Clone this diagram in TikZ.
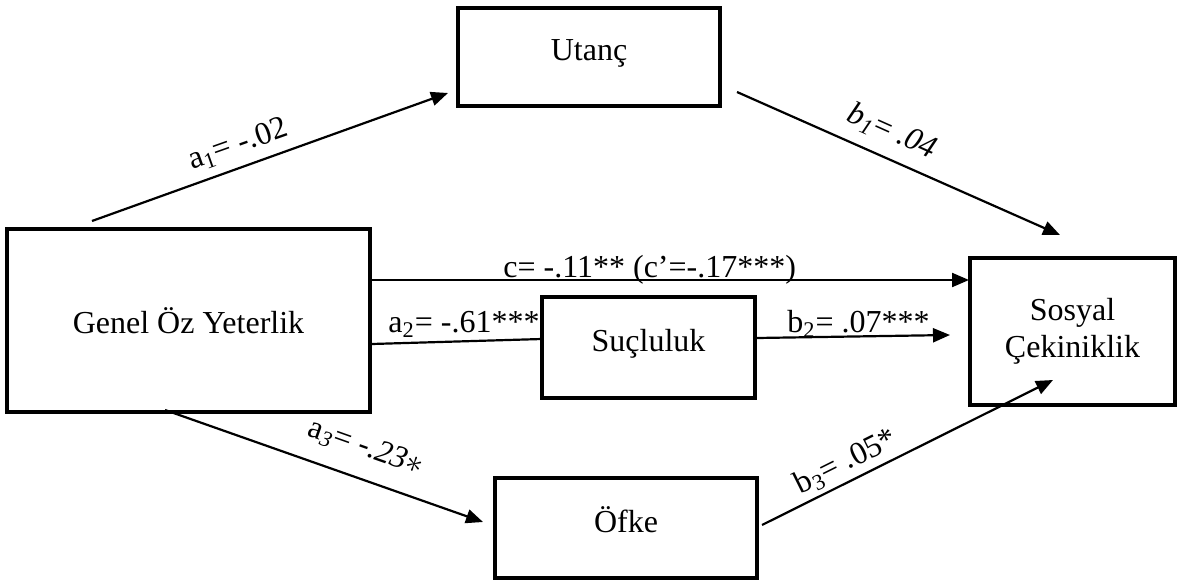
\documentclass[tikz,border=0pt]{standalone}
\usepackage{fontspec}
\setmainfont{Liberation Serif}
\usetikzlibrary{arrows.meta}
\begin{document}
\begin{tikzpicture}[x=0.5pt,y=-0.5pt,
  box/.style={draw,line width=2.4pt,rectangle,inner sep=0pt,align=center,font=\fontsize{16}{18.5}\selectfont},
  evenbox/.style={box,text height=10pt,text depth=6pt},
  arr/.style={line width=1.1pt,-{Triangle[length=8.5pt,width=7pt]}},
  plainline/.style={line width=1.1pt},
  lab/.style={inner sep=0pt,font=\fontsize{16}{18.5}\selectfont}]
\useasboundingbox (0,0) rectangle (1184,583);
% boxes
\node[evenbox,minimum width=131pt,minimum height=49pt] (ut) at (589,57) {Utanç};
\node[box,minimum width=181.5pt,minimum height=91.5pt] (gen) at (188.5,320.5) {Genel Öz Yeterlik};
\node[evenbox,minimum width=106.5pt,minimum height=50.5pt] (suc) at (648.5,347.5) {Suçluluk};
\node[box,minimum width=102.5pt,minimum height=73.5pt] (sos) at (1072.5,331.5) {Sosyal\\Çekiniklik};
\node[evenbox,minimum width=131pt,minimum height=50pt] (ofk) at (626,528) {Öfke};
% connector ends
\coordinate (a1s) at (92,221);   \coordinate (a1e) at (448,93);
\coordinate (b1s) at (737,92);   \coordinate (b1e) at (1060,235);
\coordinate (cs)  at (370,280);  \coordinate (ce)  at (969,280);
\coordinate (a2s) at (372,344);  \coordinate (a2e) at (542,339);
\coordinate (b2s) at (757,338);  \coordinate (b2e) at (950,335);
\coordinate (a3s) at (165,410);  \coordinate (a3e) at (483,522);
\coordinate (b3s) at (762,525);  \coordinate (b3e) at (1053,380);
% connectors
\draw[arr] (a1s) -- (a1e);
\draw[arr] (b1s) -- (b1e);
\draw[arr] (cs) -- (ce);
\draw[plainline] (a2s) -- (a2e);
\draw[arr] (b2s) -- (b2e);
\draw[arr] (a3s) -- (a3e);
\draw[arr] (b3s) -- (b3e);
% labels
\node[lab,rotate=19.5] (la1) at (238,145) {a\textsubscript{1}= -.02};
\node[lab,rotate=-24] (lb1) at (892,132) {\textit{b\textsubscript{1}}= \textit{.04}};
\node[lab,anchor=base west] (lc) at (503,278) {c= -.11** (c’=-.17***)};
\node[lab,anchor=base west] (la2) at (388,332) {a\textsubscript{2}= -.61***};
\node[lab,anchor=base west] (lb2) at (787,332) {b\textsubscript{2}= .07***};
\node[lab,rotate=-19.5] (la3) at (366,448) {a\textsubscript{\textit{3}}= -\textit{.23}$\ast$};
\node[lab,rotate=26.5] (lb3) at (846,462) {b\textsubscript{3}= .05*};
\end{tikzpicture}
\end{document}
